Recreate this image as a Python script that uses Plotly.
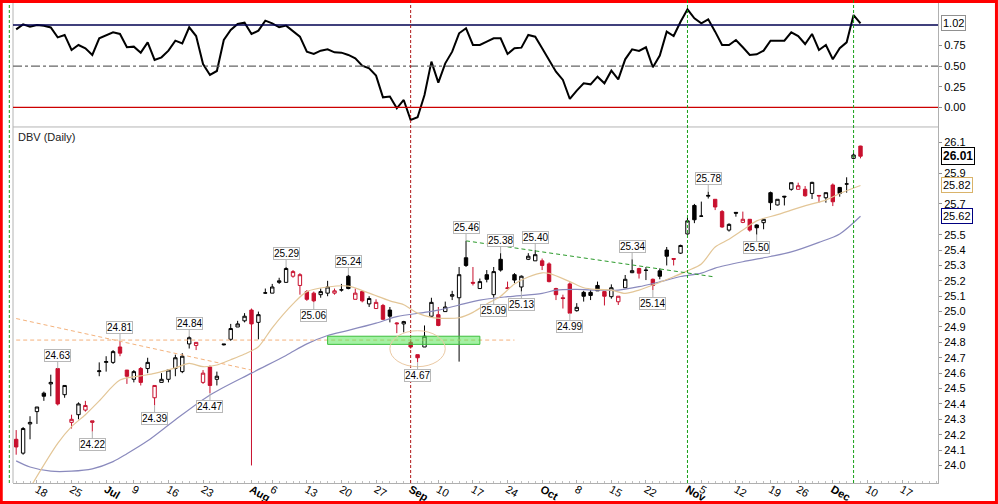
import pandas as pd
import plotly.graph_objects as go

# ---- trading calendar (2012, incl. the Sandy closure) ----
HOLIDAYS = ["2012-07-04", "2012-09-03", "2012-10-29", "2012-10-30", "2012-11-22"]
trading_days = [d.strftime("%Y-%m-%d") for d in pd.bdate_range("2012-06-13", "2012-12-24")
                if d.strftime("%Y-%m-%d") not in HOLIDAYS]
pos = {d: i for i, d in enumerate(trading_days)}

# ---- DBV daily OHLC, Jun 13 .. Dec 7 ----
prior_close = 24.21
opens = [24.17, 24.08, 24.27, 24.35, 24.47, 24.53, 24.63, 24.46, 24.28, 24.33,
         24.36, 24.28, 24.61, 24.67, 24.67, 24.77, 24.62, 24.56, 24.63, 24.63,
         24.44, 24.54, 24.56, 24.63, 24.61, 24.79, 24.78, 24.54, 24.64, 24.56,
         24.79, 24.82, 24.90, 24.94, 25.01, 24.93, 25.12, 25.12, 25.19, 25.19,
         25.23, 25.17, 25.13, 25.12, 25.11, 25.12, 25.12, 25.14, 25.23, 25.08,
         25.13, 25.05, 25.02, 25.04, 25.01, 24.92, 24.92, 24.80, 24.72, 24.77,
         24.97, 24.98, 25.00, 25.10, 25.09, 25.35, 25.19, 25.15, 25.24, 25.11,
         25.34, 25.155, 25.24, 25.16, 25.34, 25.33, 25.33, 25.31, 25.15, 25.09,
         25.18, 25.006, 25.125, 25.125, 25.17, 25.13, 25.097, 25.064, 25.155, 25.253,
         25.28, 25.27, 25.21, 25.265, 25.40, 25.345, 25.38, 25.505, 25.69, 25.62,
         25.75, 25.73, 25.65, 25.53, 25.645, 25.58, 25.60, 25.563, 25.578, 25.773,
         25.693, 25.75, 25.795, 25.795, 25.795, 25.768, 25.755, 25.74, 25.823, 25.807,
         25.829, 25.996, 26.076]
highs = [24.23, 24.25, 24.32, 24.38, 24.48, 24.59, 24.63, 24.52, 24.33, 24.41,
         24.42, 24.29, 24.67, 24.71, 24.75, 24.81, 24.62, 24.62, 24.64, 24.70,
         24.52, 24.60, 24.62, 24.72, 24.73, 24.84, 24.80, 24.62, 24.65, 24.61,
         24.79, 24.92, 24.94, 24.99, 25.02, 25.00, 25.15, 25.18, 25.22, 25.29,
         25.27, 25.25, 25.14, 25.13, 25.15, 25.20, 25.15, 25.18, 25.24, 25.15,
         25.14, 25.10, 25.08, 25.05, 25.03, 24.93, 24.94, 24.82, 24.72, 24.91,
         25.09, 25.03, 25.065, 25.135, 25.29, 25.46, 25.29, 25.215, 25.27, 25.29,
         25.38, 25.195, 25.25, 25.235, 25.38, 25.40, 25.345, 25.32, 25.155, 25.11,
         25.19, 25.055, 25.135, 25.14, 25.195, 25.13, 25.177, 25.10, 25.238, 25.34,
         25.285, 25.29, 25.215, 25.281, 25.42, 25.345, 25.435, 25.615, 25.70, 25.715,
         25.78, 25.73, 25.66, 25.574, 25.645, 25.65, 25.60, 25.567, 25.60, 25.78,
         25.73, 25.752, 25.838, 25.838, 25.816, 25.844, 25.755, 25.773, 25.833, 25.81,
         25.873, 26.03, 26.078]
lows = [24.07, 24.07, 24.17, 24.27, 24.42, 24.45, 24.39, 24.44, 24.24, 24.30,
        24.35, 24.22, 24.58, 24.61, 24.66, 24.71, 24.53, 24.54, 24.52, 24.60,
        24.39, 24.54, 24.54, 24.58, 24.60, 24.76, 24.75, 24.53, 24.47, 24.52,
        24.78, 24.81, 24.90, 24.93, 24.00, 24.82, 25.115, 25.12, 25.18, 25.19,
        25.22, 25.11, 25.07, 25.06, 25.09, 25.10, 25.11, 25.13, 25.145, 25.08,
        25.06, 25.03, 25.02, 24.945, 24.93, 24.86, 24.865, 24.76, 24.67, 24.77,
        24.96, 24.905, 25.00, 25.075, 24.675, 25.29, 25.17, 25.15, 25.19, 25.09,
        25.26, 25.15, 25.185, 25.13, 25.335, 25.33, 25.27, 25.19, 25.075, 25.02,
        24.99, 25.00, 25.065, 25.075, 25.135, 25.04, 25.084, 25.043, 25.155, 25.25,
        25.215, 25.205, 25.14, 25.21, 25.30, 25.30, 25.375, 25.50, 25.575, 25.615,
        25.735, 25.66, 25.545, 25.52, 25.617, 25.575, 25.52, 25.50, 25.535, 25.66,
        25.69, 25.69, 25.786, 25.795, 25.747, 25.732, 25.708, 25.708, 25.686, 25.747,
        25.773, 25.99, 25.996]
closes = [24.12, 24.24, 24.28, 24.38, 24.45, 24.54, 24.40, 24.52, 24.30, 24.40,
          24.39, 24.29, 24.615, 24.675, 24.74, 24.73, 24.58, 24.61, 24.54, 24.67,
          24.52, 24.56, 24.62, 24.70, 24.71, 24.83, 24.80, 24.60, 24.52, 24.58,
          24.785, 24.89, 24.92, 24.97, 24.92, 24.98, 25.122, 25.16, 25.20, 25.28,
          25.26, 25.24, 25.08, 25.07, 25.13, 25.16, 25.135, 25.142, 25.15, 25.12,
          25.07, 25.085, 25.06, 24.95, 24.97, 24.925, 24.935, 24.77, 24.70, 24.84,
          25.06, 24.91, 25.03, 25.11, 25.24, 25.30, 25.185, 25.195, 25.21, 25.26,
          25.27, 25.15, 25.205, 25.23, 25.36, 25.37, 25.30, 25.195, 25.11, 25.085,
          24.99, 25.028, 25.10, 25.105, 25.135, 25.10, 25.155, 25.10, 25.21, 25.266,
          25.25, 25.268, 25.17, 25.23, 25.36, 25.34, 25.43, 25.59, 25.597, 25.621,
          25.755, 25.68, 25.55, 25.567, 25.64, 25.60, 25.53, 25.545, 25.60, 25.708,
          25.73, 25.745, 25.838, 25.818, 25.753, 25.84, 25.752, 25.773, 25.714, 25.768,
          25.83, 26.018, 26.01]

# moving averages (sample points)
ma_fast_dates = ["2012-06-15", "2012-06-21", "2012-06-25", "2012-06-27", "2012-06-29", "2012-07-05",
                 "2012-07-10", "2012-07-12", "2012-07-17", "2012-07-19", "2012-07-23", "2012-07-25",
                 "2012-07-27", "2012-07-31", "2012-08-02", "2012-08-06", "2012-08-09", "2012-08-13",
                 "2012-08-16", "2012-08-21", "2012-08-24", "2012-08-29", "2012-08-31", "2012-09-05",
                 "2012-09-07", "2012-09-11", "2012-09-13", "2012-09-17", "2012-09-19", "2012-09-21",
                 "2012-09-25", "2012-09-27", "2012-10-01", "2012-10-02", "2012-10-05", "2012-10-09",
                 "2012-10-11", "2012-10-15", "2012-10-17", "2012-10-19", "2012-10-23", "2012-10-26",
                 "2012-11-01", "2012-11-05", "2012-11-07", "2012-11-09", "2012-11-13", "2012-11-15",
                 "2012-11-20", "2012-11-23", "2012-11-28", "2012-11-30", "2012-12-04", "2012-12-07"]
ma_fast = [23.854, 24.143, 24.252, 24.33, 24.42, 24.555,
           24.582, 24.598, 24.634, 24.663, 24.642, 24.653,
           24.687, 24.724, 24.772, 24.895, 25.05, 25.13,
           25.16, 25.166, 25.12, 25.07, 25.045, 24.99,
           24.963, 24.956, 24.96, 24.995, 25.05, 25.10,
           25.18, 25.225, 25.252, 25.248, 25.195, 25.155,
           25.144, 25.14, 25.118, 25.14, 25.173, 25.227,
           25.265, 25.31, 25.42, 25.47, 25.53, 25.59,
           25.63, 25.66, 25.70, 25.725, 25.768, 25.82]
ma_slow_dates = ["2012-06-13", "2012-06-15", "2012-06-20", "2012-06-25", "2012-06-28", "2012-07-03",
                 "2012-07-06", "2012-07-11", "2012-07-17", "2012-07-24", "2012-08-01", "2012-08-08",
                 "2012-08-13", "2012-08-16", "2012-08-21", "2012-08-27", "2012-08-30", "2012-09-06",
                 "2012-09-10", "2012-09-13", "2012-09-18", "2012-09-24", "2012-10-01", "2012-10-03",
                 "2012-10-08", "2012-10-11", "2012-10-16", "2012-10-19", "2012-10-24", "2012-10-31",
                 "2012-11-05", "2012-11-07", "2012-11-13", "2012-11-19", "2012-11-23", "2012-11-29",
                 "2012-12-04", "2012-12-07"]
ma_slow = [24.03, 23.99, 23.963, 23.963, 23.978, 24.025,
           24.076, 24.16, 24.297, 24.458, 24.60, 24.715,
           24.79, 24.845, 24.878, 24.925, 24.967, 24.995,
           25.01, 25.043, 25.075, 25.097, 25.118, 25.14,
           25.144, 25.14, 25.14, 25.162, 25.194, 25.228,
           25.25, 25.283, 25.324, 25.358, 25.388, 25.45,
           25.505, 25.62]

# oscillator in the upper pane, one value per bar
oscillator = [0.947, 1.008, 0.98, 1.0, 0.99, 0.97, 0.85, 0.879, 0.696, 0.757,
              0.717, 0.636, 0.838, 0.879, 0.911, 0.891, 0.729, 0.737, 0.664, 0.789,
              0.575, 0.607, 0.688, 0.81, 0.777, 0.972, 0.866, 0.526, 0.393, 0.441,
              0.818, 0.939, 1.012, 1.028, 0.891, 0.931, 1.053, 1.02, 0.972, 0.992,
              0.919, 0.858, 0.676, 0.648, 0.688, 0.704, 0.668, 0.664, 0.636, 0.595,
              0.506, 0.474, 0.385, 0.121, 0.13, -0.012, 0.089, -0.154, -0.121, 0.15,
              0.555, 0.30, 0.534, 0.676, 0.899, 0.96, 0.757, 0.757, 0.798, 0.838,
              0.838, 0.648, 0.717, 0.725, 0.879, 0.858, 0.717, 0.575, 0.433, 0.332,
              0.101, 0.202, 0.291, 0.279, 0.372, 0.291, 0.445, 0.34, 0.583, 0.704,
              0.684, 0.729, 0.486, 0.628, 0.919, 0.866, 1.04, 1.19, 1.081, 1.02,
              1.069, 0.919, 0.757, 0.757, 0.818, 0.729, 0.636, 0.644, 0.688, 0.81,
              0.81, 0.81, 0.911, 0.866, 0.769, 0.891, 0.696, 0.757, 0.583, 0.717,
              0.789, 1.121, 1.02]
osc_levels = [1.0, 0.5, 0.0]

swing_high_dates = ["2012-06-21", "2012-07-05", "2012-07-19", "2012-08-08", "2012-08-21",
                    "2012-09-14", "2012-09-21", "2012-09-28", "2012-10-18", "2012-11-06"]
swing_low_dates = ["2012-06-28", "2012-07-12", "2012-07-24", "2012-08-14", "2012-09-05",
                   "2012-09-20", "2012-09-26", "2012-10-05", "2012-10-23", "2012-11-15"]

marker_red = "2012-09-04"
marker_green = ["2012-11-01", "2012-12-06"]

# hand-drawn studies: (date, price) endpoints
support_line = [("2012-06-13", 24.815), ("2012-09-25", 24.815)]
old_trend = [("2012-06-13", 24.955), ("2012-08-01", 24.62)]
down_trend = [("2012-09-14", 25.46), ("2012-11-07", 25.225)]
support_box = [("2012-08-16", 24.787), ("2012-09-18", 24.84)]
bottom_ring = [("2012-08-29", 24.642), ("2012-09-11", 24.876)]

tick_dates = ["2012-06-18", "2012-06-25", "2012-07-02", "2012-07-09", "2012-07-16", "2012-07-23",
              "2012-08-01", "2012-08-06", "2012-08-13", "2012-08-20", "2012-08-27", "2012-09-04",
              "2012-09-10", "2012-09-17", "2012-09-24", "2012-10-01", "2012-10-08", "2012-10-15",
              "2012-10-22", "2012-11-01", "2012-11-05", "2012-11-12", "2012-11-19", "2012-11-26",
              "2012-12-03", "2012-12-10", "2012-12-17"]
tick_labels = ["18", "25", "<b>Jul</b>", "9", "16", "23",
               "<b>Aug</b>", "6", "13", "20", "27", "<b>Sep</b>",
               "10", "17", "24", "<b>Oct</b>", "8", "15",
               "22", "<b>Nov</b>", "5", "12", "19", "26",
               "<b>Dec</b>", "10", "17"]

RED = "#c8102e"
TAN = "#e3c697"
LAV = "#8a8abd"
GREEN = "#18a018"
FONT = "Liberation Sans, Arial, sans-serif"

n = len(closes)
prev = [prior_close] + closes[:-1]
up_day = [c >= p for c, p in zip(closes, prev)]

fig = go.Figure()

fig.add_trace(go.Scatter(x=[pos[d] for d in ma_slow_dates], y=ma_slow, mode="lines",
                         line=dict(color=LAV, width=1.2, shape="spline", smoothing=0.8),
                         hoverinfo="skip"))
fig.add_trace(go.Scatter(x=[pos[d] for d in ma_fast_dates], y=ma_fast, mode="lines",
                         line=dict(color=TAN, width=1.2, shape="spline", smoothing=0.8),
                         hoverinfo="skip"))


def candles(flag, color):
    idx = [i for i in range(n) if up_day[i] == flag]
    return go.Candlestick(
        x=idx,
        open=[opens[i] for i in idx], high=[highs[i] for i in idx],
        low=[lows[i] for i in idx], close=[closes[i] for i in idx],
        increasing=dict(line=dict(color=color, width=1), fillcolor="white"),
        decreasing=dict(line=dict(color=color, width=1), fillcolor=color),
        whiskerwidth=0, hoverinfo="skip")


fig.add_trace(candles(True, "black"))
fig.add_trace(candles(False, RED))

fig.add_trace(go.Scatter(x=list(range(n)), y=oscillator, xaxis="x2", yaxis="y2", mode="lines",
                         line=dict(color="black", width=2), hoverinfo="skip"))

# ---- shapes ----
shapes = []
# outer red frame, panel separator, left edge
shapes.append(dict(type="rect", xref="paper", yref="paper", x0=-0.0127, x1=1.0632,
                   y0=-0.0406, y1=1.0031, line=dict(color="red", width=3)))
shapes.append(dict(type="line", xref="paper", yref="paper", x0=0, x1=1, y0=0.7417, y1=0.7417,
                   line=dict(color="#b4b4b4", width=1)))
shapes.append(dict(type="line", xref="paper", yref="paper", x0=0, x1=0, y0=0, y1=1,
                   line=dict(color="#b4b4b4", width=1)))
shapes.append(dict(type="line", xref="paper", yref="paper", x0=-0.004, x1=-0.004, y0=0, y1=1,
                   line=dict(color=GREEN, width=1, dash="3px,2px")))

# oscillator levels
for lvl, col, dash in zip(osc_levels, ["#000050", "#666666", "#cc0000"], ["solid", "dashdot", "solid"]):
    shapes.append(dict(type="line", xref="paper", yref="y2", x0=0, x1=1, y0=lvl, y1=lvl,
                       line=dict(color=col, width=1.3, dash=dash)))

# event markers
shapes.append(dict(type="line", xref="x", yref="paper", x0=pos[marker_red], x1=pos[marker_red],
                   y0=0, y1=1.006, line=dict(color="#b01818", width=1, dash="3px,2px")))
for d in marker_green:
    shapes.append(dict(type="line", xref="x", yref="paper", x0=pos[d], x1=pos[d],
                       y0=0, y1=1.006, line=dict(color=GREEN, width=1, dash="3px,2px")))

# drawn studies
for seg, col in [(support_line, "#f4b27c"), (old_trend, "#f4b27c"), (down_trend, "#2a9a2a")]:
    (d0, p0), (d1, p1) = seg
    shapes.append(dict(type="line", xref="x", yref="y", x0=pos[d0], x1=pos[d1], y0=p0, y1=p1,
                       line=dict(color=col, width=1, dash="4px,3px")))
(d0, p0), (d1, p1) = support_box
shapes.append(dict(type="rect", xref="x", yref="y", x0=pos[d0], x1=pos[d1], y0=p0, y1=p1,
                   fillcolor="rgba(90,230,90,0.55)", line=dict(color="#3cbf3c", width=1)))
(d0, p0), (d1, p1) = bottom_ring
shapes.append(dict(type="circle", xref="x", yref="y", x0=pos[d0], x1=pos[d1], y0=p0, y1=p1,
                   line=dict(color="#ebc9a3", width=1)))

# ---- annotations ----
ann = []
box = dict(showarrow=True, arrowhead=0, arrowwidth=1, arrowcolor="#b0b0b0", ax=0,
           bgcolor="white", bordercolor="#b8b8b8", borderwidth=1, borderpad=0,
           font=dict(family=FONT, size=10, color="black"), xref="x", yref="y")
for d in swing_high_dates:
    i = pos[d]
    ann.append(dict(x=i, y=highs[i], text=f"{highs[i]:.2f}", ay=-13, **box))
for d in swing_low_dates:
    i = pos[d]
    ann.append(dict(x=i, y=lows[i], text=f"{lows[i]:.2f}", ay=13, **box))

ann.append(dict(xref="paper", yref="paper", x=0.0035, y=0.738, xanchor="left", yanchor="top",
                text="DBV (Daily)", showarrow=False, font=dict(family=FONT, size=11, color="#222")))

right = dict(xref="paper", x=1.003, xanchor="left", showarrow=False, bgcolor="white",
             borderwidth=1, borderpad=1)
ann.append(dict(yref="y2", y=oscillator[-1], text=f"{oscillator[-1]:.2f}", bordercolor="#909090",
                font=dict(family=FONT, size=11, color="black"), **right))
ann.append(dict(yref="y", y=closes[-1], text=f"<b>{closes[-1]:.2f}</b>", bordercolor="black",
                font=dict(family=FONT, size=12, color="black"), **right))
ann.append(dict(yref="y", y=ma_fast[-1], text=f"{ma_fast[-1]:.2f}", bordercolor="#d9b36a",
                font=dict(family=FONT, size=11, color="black"), **right))
ann.append(dict(yref="y", y=ma_slow[-1], text=f"{ma_slow[-1]:.2f}", bordercolor="#000080",
                font=dict(family=FONT, size=11, color="black"), **right))

# axis ticks (labels hidden where the value boxes sit)
price_boxes = [closes[-1], ma_fast[-1], ma_slow[-1]]
price_ticks = [round(24.0 + 0.1 * k, 1) for k in range(22)]
price_ticks = [t for t in price_ticks if min(abs(t - b) for b in price_boxes) > 0.05]
osc_ticks = [t for t in [0.0, 0.25, 0.5, 0.75, 1.0] if abs(t - oscillator[-1]) > 0.05]

axis_font = dict(family=FONT, size=11, color="black")
fig.update_layout(
    width=998, height=504, autosize=False,
    margin=dict(l=13, r=60, t=3, b=21),
    paper_bgcolor="white", plot_bgcolor="white",
    showlegend=False, template="none",
    font=axis_font,
    xaxis=dict(domain=[0, 1], anchor="y", range=[-0.46, 133.2],
               tickmode="array", tickvals=[pos[d] for d in tick_dates], ticktext=tick_labels,
               tickfont=dict(family=FONT, size=11, color="black"), ticklabelstandoff=-5,
               ticks="inside", ticklen=3, tickcolor="#b0b0b0",
               minor=dict(tickmode="linear", tick0=0, dtick=1, ticks="inside", ticklen=2,
                          tickcolor="#c0c0c0"),
               showline=True, linecolor="#b0b0b0", showgrid=False, zeroline=False,
               rangeslider=dict(visible=False), fixedrange=True),
    xaxis2=dict(domain=[0, 1], anchor="y2", matches="x", showticklabels=False, ticks="",
                showline=False, showgrid=False, zeroline=False),
    yaxis=dict(domain=[0, 0.7417], side="right", range=[23.886, 26.2],
               tickmode="array", tickvals=price_ticks, ticktext=[f"{t:.1f}" for t in price_ticks],
               ticks="outside", ticklen=3, tickcolor="#909090", tickfont=axis_font,
               showline=True, linecolor="#b0b0b0", showgrid=False, zeroline=False),
    yaxis2=dict(domain=[0.7417, 1], side="right", range=[-0.2394, 1.2673],
                tickmode="array", tickvals=osc_ticks, ticktext=[f"{t:.2f}" for t in osc_ticks],
                ticks="outside", ticklen=3, tickcolor="#909090", tickfont=axis_font,
                showline=True, linecolor="#b0b0b0", showgrid=False, zeroline=False),
    shapes=shapes,
    annotations=ann,
)

# the page's default body margin would push the 998x504 figure off the window
fig.write_html("out.html", config={"displayModeBar": False},
               post_script="document.body.style.margin = '0';")
